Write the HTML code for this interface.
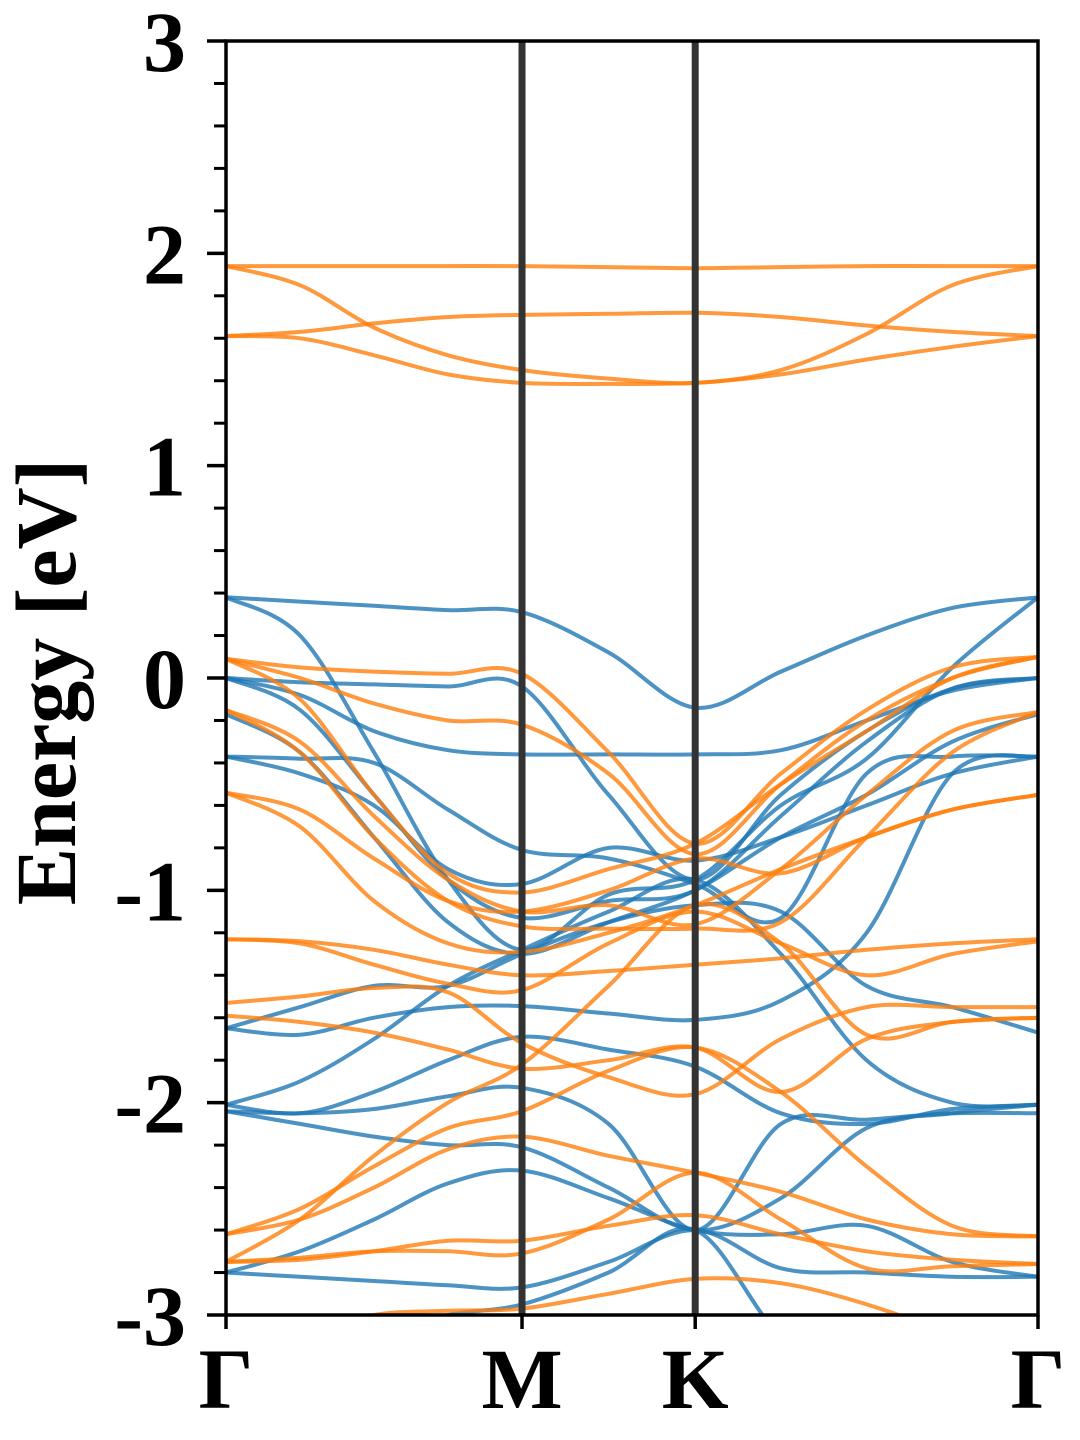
<!DOCTYPE html>
<html><head><meta charset="utf-8"><style>
html,body{margin:0;padding:0;background:#fff}
svg{display:block}
text{font-family:"Liberation Serif",serif;font-weight:bold;fill:#000}
</style></head><body>
<svg id="chart" width="1080" height="1440" viewBox="0 0 1080 1440">
<defs><clipPath id="clip"><rect x="226" y="41" width="812" height="1274"/></clipPath></defs>
<g id="bands" clip-path="url(#clip)"></g>
<g id="axes"></g>
</svg>
<script>
const kPos = [0,0.25,0.5,0.75,1,1.2925,1.585,1.8745,2.164,2.4535,2.743];
const kLabels = ["Γ","M","K","Γ"];
const kLabelPos = [0,1,1.585,2.743];
const yTicks = [3,2,1,0,-1,-2,-3];
const yTickLabels = ["3","2","1","0","-1","-2","-3"];
const blueBands = [
[0.38,0.36,0.34,0.32,0.31,0.12,-0.14,0.03,0.20,0.33,0.38],
[0.38,0.20,-0.35,-0.95,-1.28,-1.02,-0.95,-0.60,-0.38,0.05,0.38],
[0.0,-0.02,-0.03,-0.04,-0.04,-0.55,-0.95,-0.55,-0.25,-0.05,0.0],
[0.0,-0.08,-0.25,-0.34,-0.36,-0.36,-0.36,-0.34,-0.2,-0.06,0.0],
[0.0,-0.15,-0.55,-0.95,-1.13,-1.05,-1.0,-0.65,-0.3,-0.05,0.0],
[-0.37,-0.38,-0.40,-0.62,-0.81,-0.85,-0.97,-1.13,-0.45,-0.37,-0.37],
[-0.17,-0.35,-0.75,-1.15,-1.30,-1.15,-1.0,-0.75,-0.55,-0.30,-0.17],
[-0.37,-0.45,-0.60,-0.90,-0.97,-0.80,-0.86,-0.75,-0.60,-0.45,-0.37],
[-1.65,-1.55,-1.45,-1.45,-1.30,-1.15,-1.07,-1.1,-1.45,-1.55,-1.67],
[-2.01,-1.90,-1.70,-1.45,-1.28,-1.10,-0.95,-1.30,-1.80,-2.0,-2.01],
[-2.04,-2.05,-2.03,-1.97,-1.93,-2.1,-2.60,-2.10,-2.08,-2.05,-2.05],
[-2.04,-2.10,-2.16,-2.20,-2.21,-2.40,-2.60,-2.45,-2.12,-2.05,-2.01],
[-1.65,-1.68,-1.60,-1.55,-1.545,-1.58,-1.61,-1.52,-1.20,-0.45,-0.37],
[-2.01,-2.05,-1.95,-1.80,-1.69,-1.75,-1.83,-2.05,-2.1,-2.03,-2.01],
[-2.80,-2.70,-2.55,-2.38,-2.32,-2.45,-2.60,-2.62,-2.58,-2.75,-2.82],
[-2.80,-2.82,-2.84,-2.86,-2.87,-2.75,-2.60,-2.78,-2.80,-2.82,-2.82],
[-3.3,-3.25,-3.1,-3.0,-2.95,-2.80,-2.60,-3.1,-3.3,-3.3,-3.3]
];
const orangeBands = [
[1.94,1.94,1.94,1.94,1.94,1.935,1.93,1.935,1.94,1.94,1.94],
[1.94,1.85,1.65,1.52,1.45,1.41,1.39,1.45,1.62,1.85,1.94],
[1.61,1.63,1.67,1.70,1.71,1.715,1.72,1.70,1.66,1.63,1.61],
[1.61,1.60,1.52,1.43,1.39,1.385,1.39,1.43,1.50,1.56,1.61],
[0.09,0.05,0.03,0.02,0.02,-0.35,-0.78,-0.45,-0.15,0.05,0.1],
[0.09,0.0,-0.12,-0.20,-0.22,-0.45,-0.83,-0.5,-0.2,0.0,0.1],
[0.09,-0.10,-0.55,-0.92,-1.01,-0.90,-0.78,-0.50,-0.25,0.0,0.1],
[-0.15,-0.30,-0.65,-0.95,-1.10,-1.07,-1.16,-0.90,-0.55,-0.25,-0.16],
[-0.15,-0.35,-0.75,-1.05,-1.17,-1.18,-1.18,-1.15,-0.75,-0.35,-0.16],
[-0.54,-0.62,-0.85,-1.05,-1.10,-1.0,-0.85,-0.92,-0.75,-0.62,-0.55],
[-0.54,-0.70,-1.05,-1.25,-1.29,-1.20,-1.07,-0.9,-0.75,-0.62,-0.55],
[-1.23,-1.24,-1.28,-1.35,-1.40,-1.38,-1.35,-1.32,-1.28,-1.25,-1.23],
[-1.23,-1.25,-1.35,-1.44,-1.47,-1.25,-1.10,-1.25,-1.40,-1.30,-1.24],
[-1.53,-1.50,-1.46,-1.48,-1.72,-1.88,-1.96,-1.70,-1.55,-1.55,-1.55],
[-1.59,-1.62,-1.67,-1.75,-1.84,-1.80,-1.74,-1.95,-1.70,-1.62,-1.60],
[-2.75,-2.55,-2.25,-2.0,-1.82,-1.45,-1.07,-1.25,-1.68,-1.62,-1.60],
[-2.62,-2.50,-2.30,-2.12,-2.04,-1.85,-1.74,-1.95,-2.30,-2.58,-2.63],
[-2.62,-2.55,-2.40,-2.22,-2.16,-2.25,-2.33,-2.42,-2.55,-2.62,-2.63],
[-2.75,-2.74,-2.70,-2.65,-2.65,-2.58,-2.53,-2.62,-2.70,-2.74,-2.76],
[-2.75,-2.73,-2.70,-2.70,-2.71,-2.55,-2.33,-2.55,-2.78,-2.77,-2.76],
[-3.3,-3.1,-3.0,-2.98,-2.97,-2.90,-2.83,-2.85,-2.95,-3.1,-3.3]
];
const NS="http://www.w3.org/2000/svg";
const X0=226,X1=1038,Y0=41,Y1=1315,YMIN=-3,YMAX=3,KMAX=2.743;
function xs(k){return X0+(X1-X0)*k/KMAX;}
function ys(e){return Y1-(Y1-Y0)*(e-YMIN)/(YMAX-YMIN);}
function pathFor(vals){
  const p=vals.map((v,i)=>[xs(kPos[i]),ys(v)]);
  let d="M"+p[0][0].toFixed(1)+","+p[0][1].toFixed(1);
  for(let i=0;i<p.length-1;i++){
    const a=p[Math.max(i-1,0)],b=p[i],c=p[i+1],e=p[Math.min(i+2,p.length-1)];
    const c1=[b[0]+(c[0]-a[0])/6,b[1]+(c[1]-a[1])/6];
    const c2=[c[0]-(e[0]-b[0])/6,c[1]-(e[1]-b[1])/6];
    d+=" C"+c1[0].toFixed(1)+","+c1[1].toFixed(1)+" "+c2[0].toFixed(1)+","+c2[1].toFixed(1)+" "+c[0].toFixed(1)+","+c[1].toFixed(1);
  }
  return d;
}
const g=document.getElementById("bands");
blueBands.forEach((b,i)=>{
  const el=document.createElementNS(NS,"path");
  el.setAttribute("d",pathFor(b));
  el.setAttribute("fill","none");el.setAttribute("stroke","#1f77b4");el.setAttribute("stroke-width","4");el.setAttribute("stroke-opacity","0.8");
  
  
  g.appendChild(el);
});
orangeBands.forEach((b,i)=>{
  const el=document.createElementNS(NS,"path");
  el.setAttribute("d",pathFor(b));
  el.setAttribute("fill","none");el.setAttribute("stroke","#ff7f0e");el.setAttribute("stroke-width","4");el.setAttribute("stroke-opacity","0.8");
  
  
  g.appendChild(el);
});
const ax=document.getElementById("axes");
function add(tag,attrs,parent){const el=document.createElementNS(NS,tag);for(const k in attrs)el.setAttribute(k,attrs[k]);(parent||ax).appendChild(el);return el;}
// high-symmetry lines
[1,1.585].forEach((k,i)=>{
  const el=add("line",{x1:xs(k),x2:xs(k),y1:Y0,y2:Y1,stroke:"#333",'stroke-width':7});
  
  
});
// frame
const fr=add("rect",{x:X0,y:Y0,width:X1-X0,height:Y1-Y0,fill:"none",stroke:"#000",'stroke-width':3.5});


// minor ticks
for(let e=-3;e<=3.001;e+=0.2){
  const el=add("line",{x1:X0-12,x2:X0,y1:ys(e),y2:ys(e),stroke:"#000",'stroke-width':3});
  
  
}
yTicks.forEach((t,i)=>{
  const l=add("line",{x1:X0-19,x2:X0,y1:ys(t),y2:ys(t),stroke:"#000",'stroke-width':3.5});
  
  
  const tx=add("text",{x:186,y:ys(t)+30,'text-anchor':"end",'font-size':86});
  tx.textContent=yTickLabels[i];
  
  
});
kLabelPos.forEach((k,i)=>{
  const l=add("line",{x1:xs(k),x2:xs(k),y1:Y1,y2:Y1+14,stroke:"#000",'stroke-width':3.5});
  
  
  const tx=add("text",{x:xs(k),y:1408,'text-anchor':"middle",'font-size':86});
  tx.textContent=kLabels[i];
  
  
});
const yt=add("text",{x:0,y:0,'text-anchor':"middle",'font-size':86,transform:"translate(75,682) rotate(-90)"});
yt.textContent="Energy [eV]";


</script>
</body></html>
